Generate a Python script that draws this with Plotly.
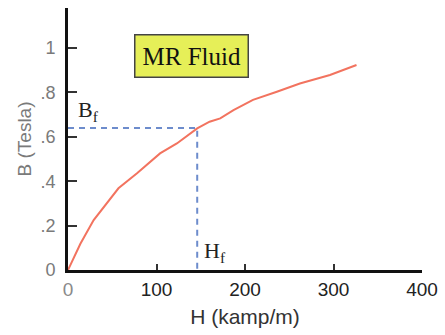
import plotly.graph_objects as go

H = [0, 14, 29, 57, 78, 104, 123, 146, 160, 172, 187, 209, 236, 262, 296, 326]
B = [0, 0.118, 0.225, 0.368, 0.436, 0.525, 0.57, 0.638, 0.668, 0.683, 0.72, 0.766, 0.803, 0.84, 0.878, 0.923]
Hf = 146
Bf = 0.64
x_ticks = [0, 100, 200, 300, 400]
x_ticktext = ['<span style="color:#8a8a8a">0</span>', "100", "200", "300", "400"]
y_ticks = [0, 0.2, 0.4, 0.6, 0.8, 1.0]
y_ticktext = ["0", ".2", ".4", ".6", ".8", "1"]

fig = go.Figure()
fig.add_trace(go.Scatter(x=H, y=B, mode="lines", line=dict(color="#f2735f", width=2), hoverinfo="skip"))
fig.add_trace(go.Scatter(x=[0, Hf, Hf], y=[Bf, Bf, 0], mode="lines",
                         line=dict(color="#6d8ccc", width=2, dash="6px,5px"), hoverinfo="skip"))

fig.add_annotation(x=0, y=Bf, xref="x", yref="y", text="B<sub>f</sub>", showarrow=False,
                   xanchor="left", yanchor="bottom", xshift=8, yshift=1,
                   font=dict(family="Liberation Serif", size=22, color="#222"))
fig.add_annotation(x=Hf, y=0, xref="x", yref="y", text="H<sub>f</sub>", showarrow=False,
                   xanchor="left", yanchor="bottom", xshift=5, yshift=2,
                   font=dict(family="Liberation Serif", size=22, color="#222"))
fig.add_annotation(x=139.5, y=0.966, xref="x", yref="y", text="MR Fluid", showarrow=False,
                   xanchor="center", yanchor="middle", bgcolor="#e6ef58", bordercolor="#444",
                   borderwidth=1.5, borderpad=7,
                   font=dict(family="Liberation Serif", size=25, color="#111"))

fig.update_layout(
    width=445, height=335, margin=dict(l=68, r=23, t=8, b=65),
    paper_bgcolor="white", plot_bgcolor="white", showlegend=False,
    font=dict(family="Liberation Sans"),
    xaxis=dict(range=[0, 400], tickvals=x_ticks, ticktext=x_ticktext, showgrid=False, zeroline=False,
               showline=True, linecolor="#111", linewidth=3, ticks="inside", ticklen=6, tickwidth=1.5,
               tickcolor="#333", tickfont=dict(size=19, color="#222"),
               title=dict(text="H (kamp/m)", font=dict(size=21, color="#333"), standoff=11)),
    yaxis=dict(range=[0, 1.18], tickvals=y_ticks, ticktext=y_ticktext, showgrid=False, zeroline=False,
               showline=True, linecolor="#111", linewidth=3, ticks="inside", ticklen=9, tickwidth=1.5,
               tickcolor="#333", tickfont=dict(size=18, color="#7a7a7a"), ticklabelstandoff=6,
               title=dict(text="B (Tesla)", font=dict(size=19, color="#7a7a7a"), standoff=4)),
)

fig.write_html("out.html")
